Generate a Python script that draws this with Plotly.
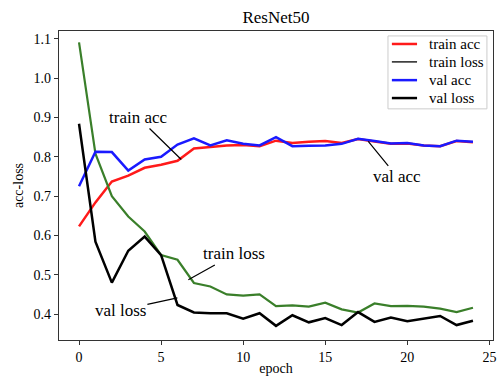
import plotly.graph_objects as go

epochs = list(range(25))
train_acc = [0.623, 0.684, 0.737, 0.752, 0.772, 0.780, 0.790, 0.821, 0.825, 0.829,
             0.830, 0.827, 0.841, 0.835, 0.838, 0.840, 0.835, 0.845, 0.839, 0.833,
             0.834, 0.829, 0.827, 0.840, 0.837]
val_acc = [0.725, 0.813, 0.812, 0.765, 0.793, 0.800, 0.831, 0.847, 0.829, 0.842,
           0.833, 0.829, 0.850, 0.827, 0.828, 0.829, 0.833, 0.846, 0.840, 0.834,
           0.835, 0.829, 0.827, 0.841, 0.838]
train_loss = [1.091, 0.808, 0.700, 0.648, 0.610, 0.550, 0.538, 0.479, 0.470, 0.450,
              0.447, 0.450, 0.420, 0.422, 0.419, 0.429, 0.412, 0.404, 0.427, 0.420,
              0.421, 0.419, 0.414, 0.405, 0.416]
val_loss = [0.884, 0.584, 0.480, 0.561, 0.597, 0.550, 0.423, 0.404, 0.402, 0.402,
            0.388, 0.402, 0.370, 0.397, 0.379, 0.390, 0.372, 0.405, 0.380, 0.391,
            0.382, 0.389, 0.395, 0.372, 0.383]

# annotation labels: (text, point x, point y, text x, text y)
labels = [
    ("train acc", 6.23, 0.793, 3.61, 0.900),
    ("val acc", 17.62, 0.839, 19.39, 0.749),
    ("train loss", 6.66, 0.487, 9.46, 0.553),
    ("val loss", 5.99, 0.441, 2.52, 0.410),
]

# legend entries (name, sample colour, sample width)
legend_names = ["train acc", "train loss", "val acc", "val loss"]
legend_colors = ["#ff1a1a", "black", "#1a1aff", "black"]
legend_widths = [2.5, 1.3, 2.5, 2.5]

FONT = "Liberation Serif, Times New Roman, serif"

fig = go.Figure()
fig.add_trace(go.Scatter(x=epochs, y=train_acc, mode="lines", name="train acc",
                         line=dict(color="#ff1a1a", width=2.5)))
fig.add_trace(go.Scatter(x=epochs, y=train_loss, mode="lines", name="train loss",
                         line=dict(color="#3a7f2a", width=2.2)))
fig.add_trace(go.Scatter(x=epochs, y=val_acc, mode="lines", name="val acc",
                         line=dict(color="#1a1aff", width=2.5)))
fig.add_trace(go.Scatter(x=epochs, y=val_loss, mode="lines", name="val loss",
                         line=dict(color="black", width=2.5)))

for text, px, py, tx, ty in labels:
    fig.add_annotation(x=px, y=py, ax=tx, ay=ty, xref="x", yref="y",
                       axref="x", ayref="y", text=text, showarrow=True,
                       arrowhead=0, arrowwidth=1.2, arrowcolor="black",
                       font=dict(family=FONT, size=17, color="black"))

# manual legend box
fig.add_shape(type="rect", xref="paper", yref="paper",
              x0=0.758, x1=0.986, y0=0.748, y1=0.984,
              line=dict(color="#cccccc", width=1), fillcolor="white", layer="above")
row_y = [0.958, 0.900, 0.841, 0.783]
for name, col, w, yy in zip(legend_names, legend_colors, legend_widths, row_y):
    fig.add_shape(type="line", xref="paper", yref="paper",
                  x0=0.767, x1=0.825, y0=yy, y1=yy,
                  line=dict(color=col, width=w), layer="above")
    fig.add_annotation(xref="paper", yref="paper", x=0.848, y=yy, text=name,
                       showarrow=False, xanchor="left", yanchor="middle",
                       font=dict(family=FONT, size=15, color="black"))

fig.update_layout(
    width=499, height=376,
    margin=dict(l=59, r=6, t=31, b=36, autoexpand=False),
    paper_bgcolor="white", plot_bgcolor="white",
    showlegend=False,
    font=dict(family=FONT, size=14, color="black"),
    title=dict(text="ResNet50", x=0.553, xanchor="center", y=0.955, yanchor="middle",
               font=dict(family=FONT, size=17, color="black")),
)
fig.update_xaxes(range=[-1.22, 25.22], tickvals=[0, 5, 10, 15, 20, 25],
                 automargin=False,
                 showgrid=False, zeroline=False, showline=True, linecolor="#333",
                 linewidth=1.2, mirror=True, ticks="outside", ticklen=4,
                 tickcolor="#333", tickfont=dict(family=FONT, size=14),
                 title=dict(text="epoch", standoff=1, font=dict(family=FONT, size=14)))
fig.update_yaxes(range=[0.334, 1.120], tickvals=[0.4, 0.5, 0.6, 0.7, 0.8, 0.9, 1.0, 1.1],
                 ticktext=["0.4", "0.5", "0.6", "0.7", "0.8", "0.9", "1.0", "1.1"],
                 automargin=False,
                 showgrid=False, zeroline=False, showline=True, linecolor="#333",
                 linewidth=1.2, mirror=True, ticks="outside", ticklen=4,
                 tickcolor="#333", tickfont=dict(family=FONT, size=14),
                 title=dict(text="acc-loss", standoff=6, font=dict(family=FONT, size=14)))

fig.write_html("out.html")
